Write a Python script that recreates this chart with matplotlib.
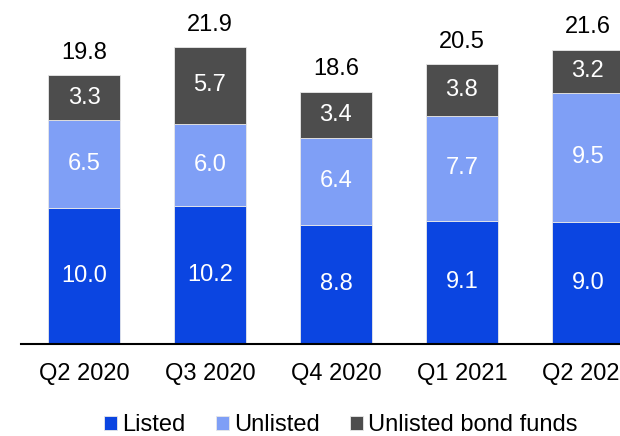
import matplotlib.pyplot as plt
import numpy as np

plt.rcParams['font.family'] = ['Liberation Sans', 'DejaVu Sans']

# Quarterly values
quarters = ['Q2 2020', 'Q3 2020', 'Q4 2020', 'Q1 2021', 'Q2 2021']
listed = [10.0, 10.2, 8.8, 9.1, 9.0]
unlisted = [6.5, 6.0, 6.4, 7.7, 9.5]
bond_funds = [3.3, 5.7, 3.4, 3.8, 3.2]
totals = [19.8, 21.9, 18.6, 20.5, 21.6]

c_listed = '#0B45E1'
c_unlisted = '#7F9FF6'
c_bond = '#4D4D4D'

fig = plt.figure(figsize=(6.2, 4.36), dpi=100)
ax = fig.add_axes([0.034, 0.211, 0.966, 0.789])

x = np.arange(len(quarters))
w = 0.573
listed = np.array(listed)
unlisted = np.array(unlisted)
bond_funds = np.array(bond_funds)

b1 = ax.bar(x, listed, w, color=c_listed, edgecolor='#E8E8E8', linewidth=0.6, label='Listed')
b2 = ax.bar(x, unlisted, w, bottom=listed, color=c_unlisted, edgecolor='#E8E8E8', linewidth=0.6, label='Unlisted')
b3 = ax.bar(x, bond_funds, w, bottom=listed + unlisted, color=c_bond, edgecolor='#E8E8E8', linewidth=0.6,
            label='Unlisted bond funds')

# segment labels
for vals, bottoms in [(listed, np.zeros(5)), (unlisted, listed), (bond_funds, listed + unlisted)]:
    for xi, v, b in zip(x, vals, bottoms):
        ax.text(xi, b + v / 2, f'{v:.1f}', ha='center', va='center', color='white', fontsize=17)

# totals
for xi, t, s in zip(x, totals, listed + unlisted + bond_funds):
    ax.annotate(f'{t:.1f}', (xi, s), xytext=(0, 8), textcoords='offset points',
                ha='center', va='bottom', fontsize=17, color='black')

ax.set_xlim(-0.50, 4.256)
ax.set_ylim(0, 25.35)
ax.set_xticks(x)
ax.set_xticklabels(quarters, fontsize=17)
ax.tick_params(axis='x', length=0, pad=14)
ax.set_yticks([])
for side in ['top', 'right', 'left']:
    ax.spines[side].set_visible(False)
ax.spines['bottom'].set_linewidth(1.5)
ax.spines['bottom'].set_color('black')

fig.legend(handles=[b1, b2, b3], loc='center', bbox_to_anchor=(341 / 620, 1 - 425 / 436),
           ncol=3, frameon=False, fontsize=17, handlelength=0.55, handleheight=0.55,
           handletextpad=0.2, columnspacing=1.3, borderaxespad=0)

fig.savefig('out.png', dpi=100)
